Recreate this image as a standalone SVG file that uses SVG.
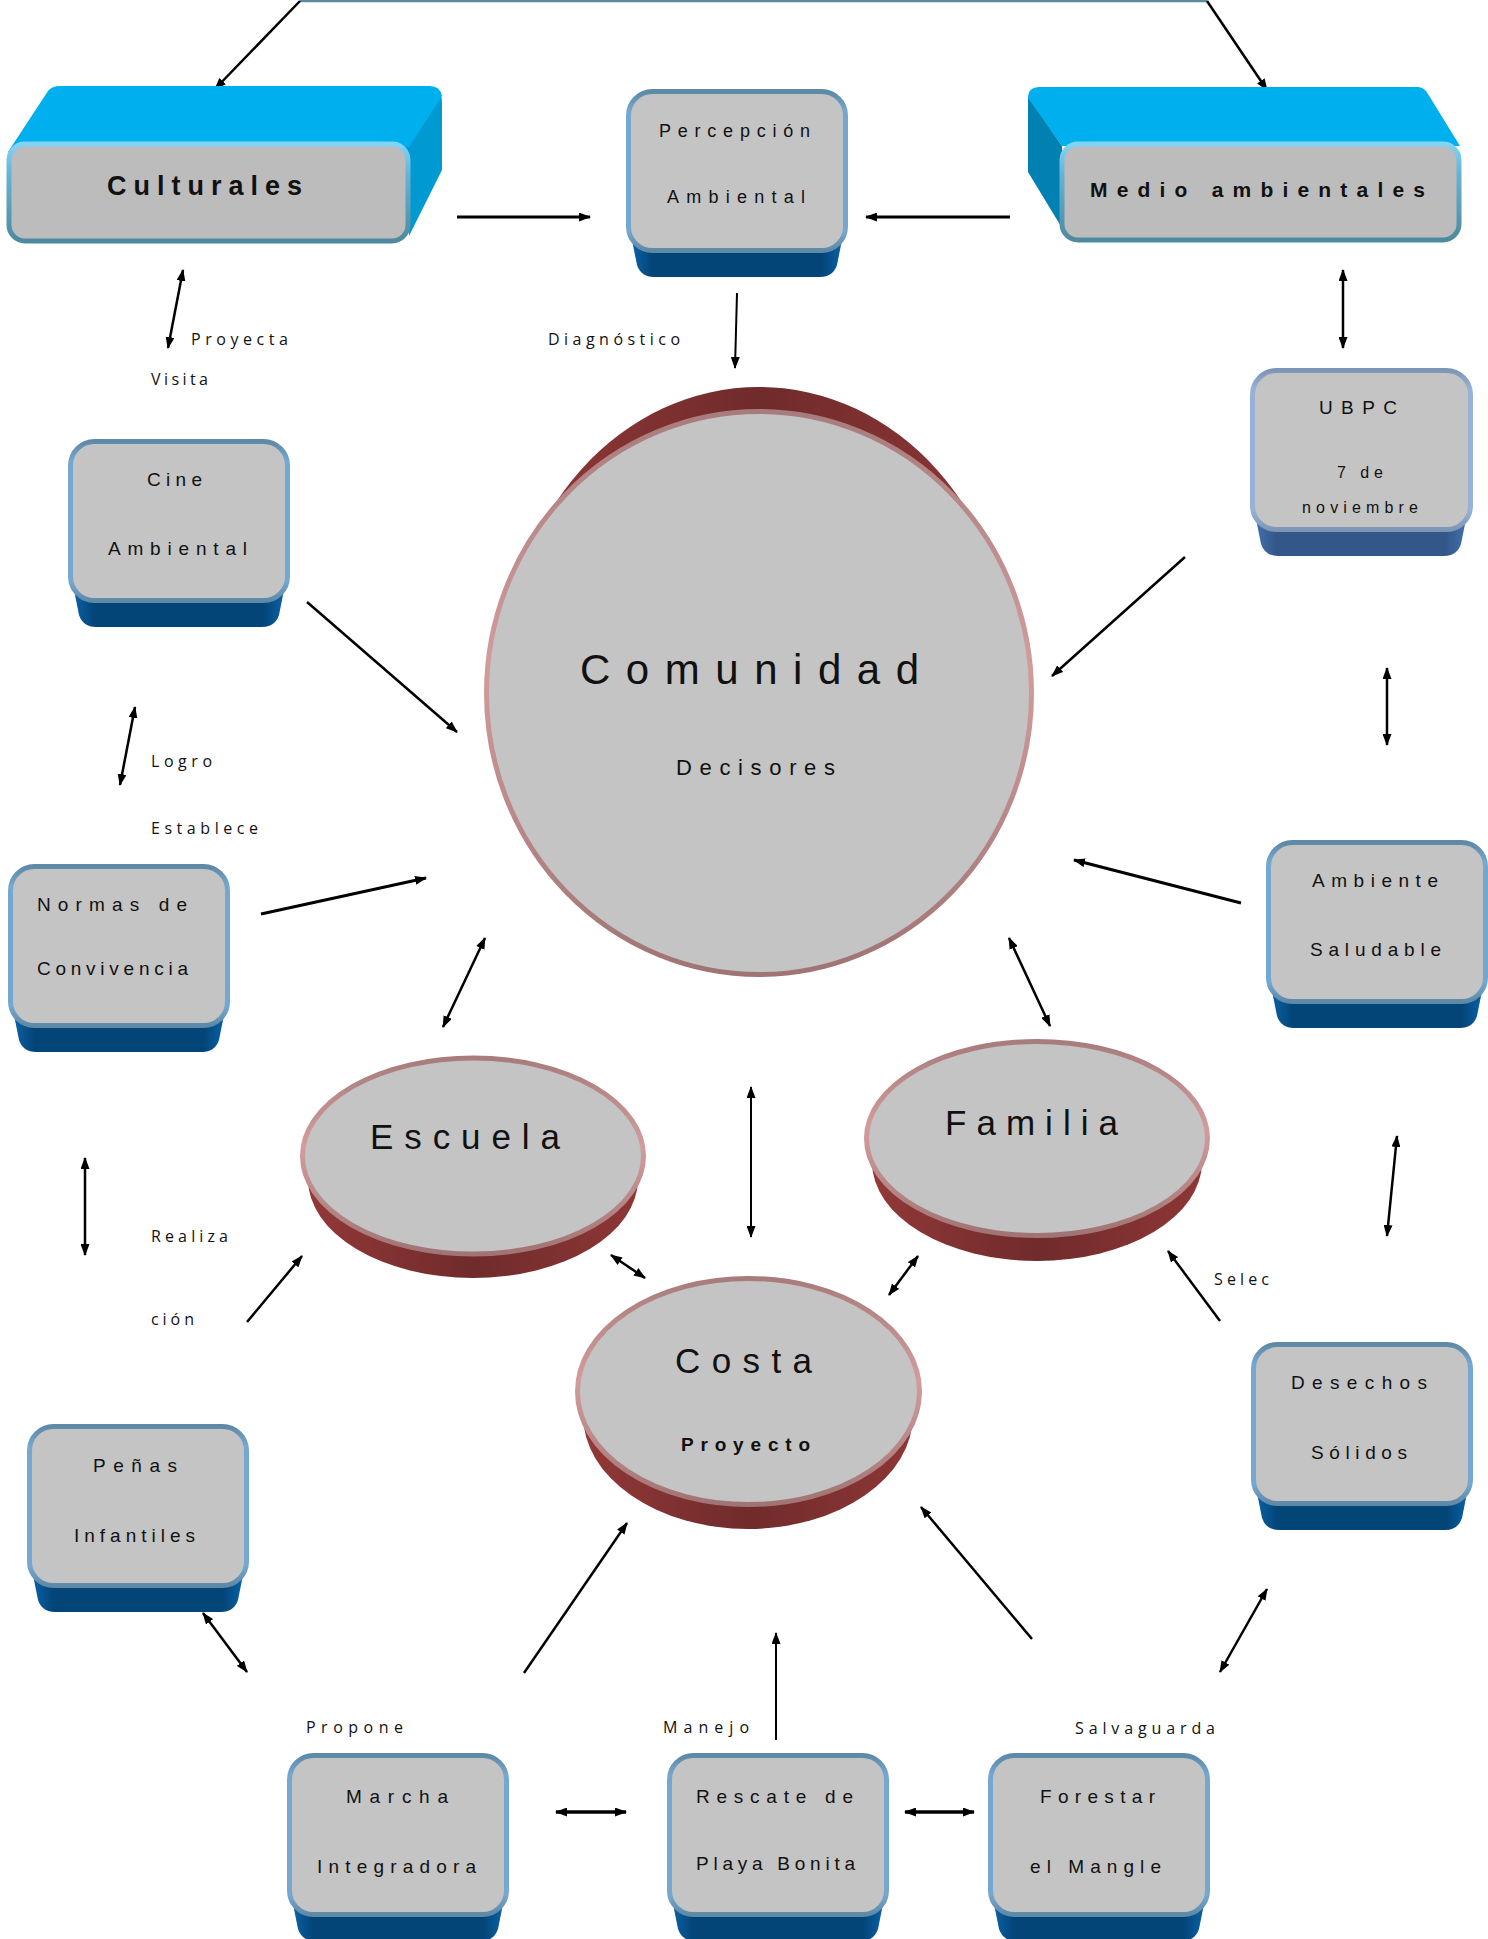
<svg xmlns="http://www.w3.org/2000/svg" xmlns:xlink="http://www.w3.org/1999/xlink" width="1488" height="1939" viewBox="0 0 1488 1939">
<defs>
  <linearGradient id="bs" x1="0" y1="0" x2="0" y2="1">
    <stop offset="0" stop-color="#5e89a7"/>
    <stop offset="0.12" stop-color="#75a7cf"/>
    <stop offset="0.88" stop-color="#75a7cf"/>
    <stop offset="1" stop-color="#5e89a7"/>
  </linearGradient>
  <linearGradient id="ext" x1="0" y1="0" x2="1" y2="0">
    <stop offset="0" stop-color="#0b62a8"/>
    <stop offset="0.1" stop-color="#034577"/>
    <stop offset="0.9" stop-color="#034577"/>
    <stop offset="1" stop-color="#0b62a8"/>
  </linearGradient>
  <linearGradient id="ubs" x1="0" y1="0" x2="0" y2="1">
    <stop offset="0" stop-color="#7e96b6"/>
    <stop offset="0.12" stop-color="#96b2d8"/>
    <stop offset="0.88" stop-color="#96b2d8"/>
    <stop offset="1" stop-color="#7e96b6"/>
  </linearGradient>
  <linearGradient id="uext" x1="0" y1="0" x2="1" y2="0">
    <stop offset="0" stop-color="#4272ae"/>
    <stop offset="0.1" stop-color="#34578a"/>
    <stop offset="0.9" stop-color="#34578a"/>
    <stop offset="1" stop-color="#4272ae"/>
  </linearGradient>
  <linearGradient id="cs" x1="0" y1="0" x2="0" y2="1">
    <stop offset="0" stop-color="#80d4f4"/>
    <stop offset="0.3" stop-color="#68b4d6"/>
    <stop offset="1" stop-color="#4e8a9e"/>
  </linearGradient>
  <linearGradient id="ps" x1="0" y1="0" x2="0" y2="1">
    <stop offset="0" stop-color="#a87c7c"/>
    <stop offset="0.45" stop-color="#d29c9c"/>
    <stop offset="1" stop-color="#a07474"/>
  </linearGradient>
  <linearGradient id="rext" x1="0" y1="0" x2="1" y2="0">
    <stop offset="0" stop-color="#923838"/>
    <stop offset="0.5" stop-color="#702b2b"/>
    <stop offset="1" stop-color="#8e3636"/>
  </linearGradient>
  <marker id="ah" markerUnits="userSpaceOnUse" viewBox="0 0 12 9" markerWidth="12" markerHeight="9" refX="11" refY="4.5" orient="auto-start-reverse">
    <path d="M0,0 L12,4.5 L0,9 z" fill="#000"/>
  </marker>
  <g id="boxShape">
    <path class="ext" d="M5,146 L217,146 L211,176 Q207,188 194,188 L28,188 Q15,188 11,176 Z"/>
    <rect class="box" x="2.5" y="2.5" width="217" height="159" rx="24"/>
  </g>
</defs>
<style>
  .box{fill:#c4c4c4;stroke:url(#bs);stroke-width:5}
  .ext{fill:url(#ext)}
  .t{font-family:"Liberation Sans",Arial,sans-serif;font-size:19px;fill:#111}
  .b{font-weight:bold}
  .lbl{font-family:"Open Sans","Liberation Sans",sans-serif;font-size:16px;fill:#111}
  .c{stroke:#000;stroke-width:2.5;fill:none}
  .face{fill:#c4c4c4;stroke:url(#ps);stroke-width:5}
  .rx{fill:url(#rext)}
</style>
<rect width="1488" height="1939" fill="#fff"/>

<g id="connectors">
  <line x1="300" y1="1" x2="1207" y2="1" stroke="#5b8ba0" stroke-width="2.5"/>
  <line class="c" x1="300" y1="1" x2="215" y2="89" marker-end="url(#ah)"/>
  <line class="c" x1="1207" y1="1" x2="1267" y2="90" marker-end="url(#ah)"/>
  <line class="c" x1="457" y1="217" x2="590" y2="217" style="stroke-width:3" marker-end="url(#ah)"/>
  <line class="c" x1="1010" y1="217" x2="866" y2="217" style="stroke-width:3" marker-end="url(#ah)"/>
  <line class="c" x1="737" y1="293" x2="735" y2="368" style="stroke-width:2" marker-end="url(#ah)"/>
  <line class="c" x1="183" y1="270" x2="168" y2="348" marker-start="url(#ah)" marker-end="url(#ah)"/>
  <line class="c" x1="1343" y1="270" x2="1343" y2="348" marker-start="url(#ah)" marker-end="url(#ah)"/>
  <line class="c" x1="307" y1="602" x2="457" y2="732" marker-end="url(#ah)"/>
  <line class="c" x1="1185" y1="557" x2="1052" y2="676" marker-end="url(#ah)"/>
  <line class="c" x1="135" y1="707" x2="120" y2="785" marker-start="url(#ah)" marker-end="url(#ah)"/>
  <line class="c" x1="1387" y1="668" x2="1387" y2="745" marker-start="url(#ah)" marker-end="url(#ah)"/>
  <line class="c" x1="261" y1="914" x2="426" y2="878" style="stroke-width:3" marker-end="url(#ah)"/>
  <line class="c" x1="1241" y1="903" x2="1074" y2="860" style="stroke-width:3" marker-end="url(#ah)"/>
  <line class="c" x1="485" y1="938" x2="443" y2="1027" marker-start="url(#ah)" marker-end="url(#ah)"/>
  <line class="c" x1="1009" y1="938" x2="1050" y2="1026" marker-start="url(#ah)" marker-end="url(#ah)"/>
  <line class="c" x1="751" y1="1087" x2="751" y2="1237" style="stroke-width:2" marker-start="url(#ah)" marker-end="url(#ah)"/>
  <line class="c" x1="85" y1="1158" x2="85" y2="1255" marker-start="url(#ah)" marker-end="url(#ah)"/>
  <line class="c" x1="247" y1="1322" x2="302" y2="1256" marker-end="url(#ah)"/>
  <line class="c" x1="611" y1="1255" x2="645" y2="1278" marker-start="url(#ah)" marker-end="url(#ah)"/>
  <line class="c" x1="918" y1="1256" x2="889" y2="1295" marker-start="url(#ah)" marker-end="url(#ah)"/>
  <line class="c" x1="1397" y1="1136" x2="1387" y2="1236" marker-start="url(#ah)" marker-end="url(#ah)"/>
  <line class="c" x1="1220" y1="1321" x2="1168" y2="1251" marker-end="url(#ah)"/>
  <line class="c" x1="203" y1="1613" x2="247" y2="1672" marker-start="url(#ah)" marker-end="url(#ah)"/>
  <line class="c" x1="524" y1="1673" x2="627" y2="1523" marker-end="url(#ah)"/>
  <line class="c" x1="776" y1="1740" x2="776" y2="1633" style="stroke-width:2" marker-end="url(#ah)"/>
  <line class="c" x1="1032" y1="1639" x2="921" y2="1507" marker-end="url(#ah)"/>
  <line class="c" x1="1267" y1="1589" x2="1220" y2="1672" marker-start="url(#ah)" marker-end="url(#ah)"/>
  <line class="c" x1="556" y1="1812" x2="626" y2="1812" style="stroke-width:3.5" marker-start="url(#ah)" marker-end="url(#ah)"/>
  <line class="c" x1="905" y1="1812" x2="974" y2="1812" style="stroke-width:3.5" marker-start="url(#ah)" marker-end="url(#ah)"/>
</g>

<g id="labels">
  <text class="lbl" x="191" y="345" textLength="97" lengthAdjust="spacing">Proyecta</text>
  <text class="lbl" x="151" y="385" textLength="57" lengthAdjust="spacing">Visita</text>
  <text class="lbl" x="548" y="345" textLength="132" lengthAdjust="spacing">Diagnóstico</text>
  <text class="lbl" x="151" y="767" textLength="61" lengthAdjust="spacing">Logro</text>
  <text class="lbl" x="151" y="834" textLength="107" lengthAdjust="spacing">Establece</text>
  <text class="lbl" x="151" y="1242" textLength="77" lengthAdjust="spacing">Realiza</text>
  <text class="lbl" x="151" y="1325" textLength="43" lengthAdjust="spacing">ción</text>
  <text class="lbl" x="1214" y="1285" textLength="55" lengthAdjust="spacing">Selec</text>
  <text class="lbl" x="306" y="1733" textLength="97" lengthAdjust="spacing">Propone</text>
  <text class="lbl" x="663" y="1733" textLength="86" lengthAdjust="spacing">Manejo</text>
  <text class="lbl" x="1075" y="1734" textLength="140" lengthAdjust="spacing">Salvaguarda</text>
</g>

<g id="culturales">
  <path d="M405,147 L438,97 Q442,92 442,104 L442,170 L409,236 Z" fill="#0099d2"/>
  <path d="M8,152 L48,91 Q52,86 60,86 L430,86 Q440,86 442,96 L409,147 Z" fill="#00b0ee"/>
  <rect x="9" y="144" width="399" height="97" rx="16" fill="#bcbcbc" stroke="url(#cs)" stroke-width="5"/>
  <text class="t b" x="107" y="195" style="font-size:27px" textLength="195" lengthAdjust="spacing">Culturales</text>
</g>

<g id="medio-ambientales">
  <path d="M1028,96 L1062,146 L1062,228 L1028,172 Z" fill="#0081b2"/>
  <path d="M1028,98 Q1028,87 1040,87 L1418,87 Q1424,87 1428,94 L1460,146 L1062,146 Z" fill="#00b0ee"/>
  <rect x="1062" y="144" width="397" height="96" rx="16" fill="#bcbcbc" stroke="url(#cs)" stroke-width="5"/>
  <text class="t b" x="1090" y="197" style="font-size:21px" textLength="335" lengthAdjust="spacing">Medio ambientales</text>
</g>

<g id="percepcion-ambiental">
  <use xlink:href="#boxShape" x="626" y="89"/>
  <text class="t" x="659" y="137" style="font-size:18px" textLength="151" lengthAdjust="spacing">Percepción</text>
  <text class="t" x="667" y="203" style="font-size:18px" textLength="138" lengthAdjust="spacing">Ambiental</text>
</g>

<g id="ubpc">
  <path d="M1255,514 L1467,514 L1461,544 Q1457,556 1444,556 L1278,556 Q1265,556 1261,544 Z" fill="url(#uext)"/>
  <rect x="1252.5" y="370.5" width="218" height="159" rx="24" fill="#c4c4c4" stroke="url(#ubs)" stroke-width="5"/>
  <text class="t" x="1319" y="414" textLength="78" lengthAdjust="spacing">UBPC</text>
  <text class="t" x="1337" y="478" style="font-size:16px" textLength="46" lengthAdjust="spacing">7 de</text>
  <text class="t" x="1302" y="513" style="font-size:16px" textLength="116" lengthAdjust="spacing">noviembre</text>
</g>

<g id="cine-ambiental">
  <use xlink:href="#boxShape" x="68" y="439"/>
  <text class="t" x="147" y="486" textLength="55" lengthAdjust="spacing">Cine</text>
  <text class="t" x="108" y="555" textLength="139" lengthAdjust="spacing">Ambiental</text>
</g>

<g id="normas-de-convivencia">
  <use xlink:href="#boxShape" x="8" y="864"/>
  <text class="t" x="37" y="911" textLength="150" lengthAdjust="spacing">Normas de</text>
  <text class="t" x="37" y="975" textLength="151" lengthAdjust="spacing">Convivencia</text>
</g>

<g id="ambiente-saludable">
  <use xlink:href="#boxShape" x="1266" y="840"/>
  <text class="t" x="1312" y="887" textLength="126" lengthAdjust="spacing">Ambiente</text>
  <text class="t" x="1310" y="956" textLength="131" lengthAdjust="spacing">Saludable</text>
</g>

<g id="desechos-solidos">
  <use xlink:href="#boxShape" x="1251" y="1342"/>
  <text class="t" x="1291" y="1389" textLength="136" lengthAdjust="spacing">Desechos</text>
  <text class="t" x="1311" y="1459" textLength="96" lengthAdjust="spacing">Sólidos</text>
</g>

<g id="penas-infantiles">
  <use xlink:href="#boxShape" x="27" y="1424"/>
  <text class="t" x="93" y="1472" textLength="84" lengthAdjust="spacing">Peñas</text>
  <text class="t" x="74" y="1542" textLength="121" lengthAdjust="spacing">Infantiles</text>
</g>

<g id="marcha-integradora">
  <use xlink:href="#boxShape" x="287" y="1753"/>
  <text class="t" x="346" y="1803" textLength="102" lengthAdjust="spacing">Marcha</text>
  <text class="t" x="317" y="1873" textLength="159" lengthAdjust="spacing">Integradora</text>
</g>

<g id="rescate-playa-bonita">
  <use xlink:href="#boxShape" x="667" y="1753"/>
  <text class="t" x="696" y="1803" textLength="157" lengthAdjust="spacing">Rescate de</text>
  <text class="t" x="696" y="1870" textLength="159" lengthAdjust="spacing">Playa Bonita</text>
</g>

<g id="forestar-el-mangle">
  <use xlink:href="#boxShape" x="988" y="1753"/>
  <text class="t" x="1040" y="1803" textLength="115" lengthAdjust="spacing">Forestar</text>
  <text class="t" x="1030" y="1873" textLength="131" lengthAdjust="spacing">el Mangle</text>
</g>

<g id="comunidad">
  <ellipse cx="759" cy="670" rx="252" ry="283" fill="url(#rext)"/>
  <ellipse class="face" cx="759" cy="693" rx="272.5" ry="281.5"/>
  <text class="t" x="580" y="684" style="font-size:42px" textLength="339" lengthAdjust="spacing">Comunidad</text>
  <text class="t" x="676" y="775" style="font-size:22px" textLength="159" lengthAdjust="spacing">Decisores</text>
</g>

<g id="escuela">
  <ellipse class="rx" cx="473" cy="1179" rx="165" ry="99"/>
  <ellipse class="face" cx="473" cy="1156" rx="170.5" ry="98"/>
  <text class="t" x="370" y="1149" style="font-size:35px" textLength="190" lengthAdjust="spacing">Escuela</text>
</g>

<g id="familia">
  <ellipse class="rx" cx="1037" cy="1162" rx="165" ry="99"/>
  <ellipse class="face" cx="1037" cy="1138.5" rx="170.5" ry="97"/>
  <text class="t" x="945" y="1135" style="font-size:35px" textLength="173" lengthAdjust="spacing">Familia</text>
</g>

<g id="costa">
  <ellipse class="rx" cx="748" cy="1415" rx="165" ry="114"/>
  <ellipse class="face" cx="748.5" cy="1391.5" rx="171" ry="113"/>
  <text class="t" x="675" y="1373" style="font-size:35px" textLength="137" lengthAdjust="spacing">Costa</text>
  <text class="t b" x="681" y="1451" textLength="129" lengthAdjust="spacing">Proyecto</text>
</g>
</svg>
